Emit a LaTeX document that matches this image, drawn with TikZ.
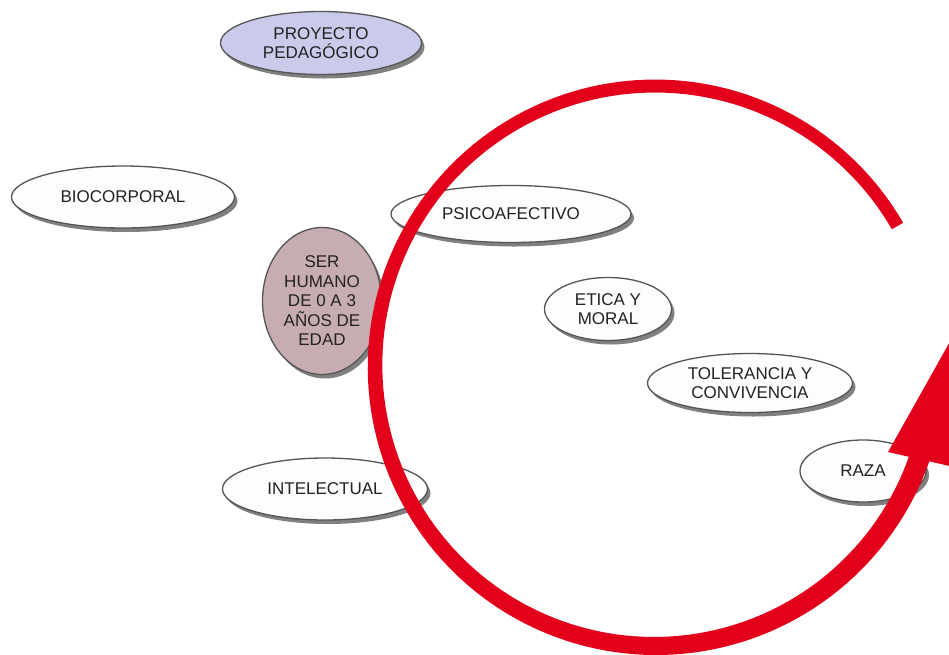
\documentclass[tikz,border=0pt]{standalone}
\usepackage{fontspec}
\setmainfont{Liberation Sans}
\usetikzlibrary{shapes.geometric,shadows,backgrounds}
\definecolor{inkgray}{HTML}{555555}
\definecolor{txtgray}{HTML}{222222}
\definecolor{lavender}{HTML}{CACAEB}
\definecolor{rosy}{HTML}{C7ADB1}
\definecolor{bubble}{HTML}{FDFDFD}
\definecolor{loopred}{HTML}{E2001A}
\tikzset{
  topic/.style={ellipse, draw=inkgray, line width=1.3pt, fill=bubble,
    inner sep=0pt, align=center, text=txtgray,
    font=\fontsize{17}{19.5}\selectfont,
    drop shadow={shadow xshift=3pt, shadow yshift=-4pt, fill=black!50, opacity=1}},
  link/.style={draw=inkgray, line width=1.3pt},
  % half width of the red loop band, growing along the turn
  declare function={hw(\a)=6.5+4*max(0,(-140-\a)/205);}
}
\begin{document}
\begin{tikzpicture}[x=1pt, y=-1pt]
\useasboundingbox (0,0) rectangle (949,654);
\clip (0,0) rectangle (949,654);
\fill[white] (0,0) rectangle (949,654);

% concept nodes
\node[topic, fill=lavender, minimum width=201pt, minimum height=63pt] (proy) at (321,43) {PROYECTO\\PEDAG\'OGICO};
\node[topic, minimum width=223pt, minimum height=62pt] (bio) at (123,197) {BIOCORPORAL};
\node[topic, fill=rosy, minimum width=119pt, minimum height=147pt] (ser) at (322,301) {SER\\HUMANO\\DE 0 A 3\\A\~NOS DE\\EDAD};
\node[topic, minimum width=240pt, minimum height=57pt] (psi) at (511,214) {PSICOAFECTIVO};
\node[topic, minimum width=127pt, minimum height=63pt] (etica) at (608,309) {ETICA Y\\MORAL};
\node[topic, minimum width=205pt, minimum height=59pt] (tol) at (750,383) {TOLERANCIA Y\\CONVIVENCIA};
\node[topic, minimum width=126pt, minimum height=62pt] (raza) at (863,471) {RAZA};
\node[topic, minimum width=205pt, minimum height=62pt] (intel) at (325,489) {INTELECTUAL};

% connectors behind the bubbles
\begin{scope}[on background layer]
  \draw[link] (proy.center) -- (ser.center);
  \draw[link] (bio.center) -- (ser.center);
  \draw[link] (ser.center) -- (intel.center);
  \draw[link] (ser.center) -- (psi.center);
  \draw[link] (psi.center) -- (etica.center);
  \draw[link] (etica.center) -- (tol.center);
  \draw[link] (tol.center) -- (raza.center);
\end{scope}

% red cycle arrow drawn over everything: a band around (655,366), radius 280
\fill[loopred]
  plot[domain=-30:-345, samples=160, variable=\a]
    ({655+(280+hw(\a))*cos(\a)}, {366+(280+hw(\a))*sin(\a)})
  -- plot[domain=-345:-30, samples=160, variable=\a]
    ({655+(280-hw(\a))*cos(\a)}, {366+(280-hw(\a))*sin(\a)})
  -- cycle;
\fill[loopred] (888,452) -- (966,313) -- (976,472) -- cycle;
\end{tikzpicture}
\end{document}
